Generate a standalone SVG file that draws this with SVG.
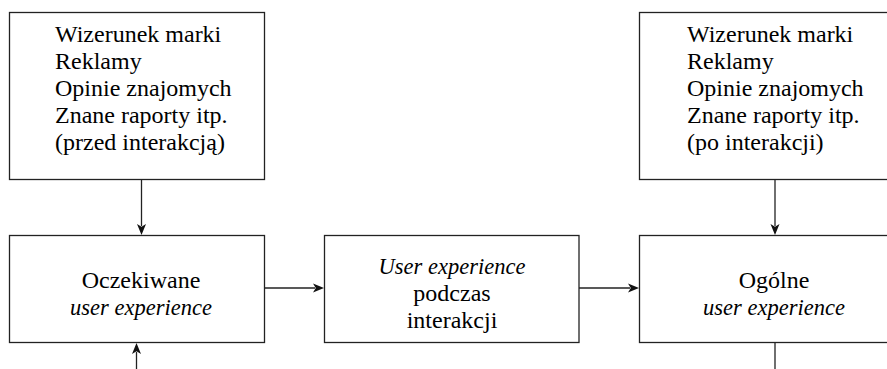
<svg xmlns="http://www.w3.org/2000/svg" width="887" height="369" viewBox="0 0 887 369">
<rect width="887" height="369" fill="#fff"/>
<g id="connectors" stroke="#222" stroke-width="1.3" fill="none">
<line x1="141.5" y1="179.5" x2="141.5" y2="226"/>
<line x1="136.5" y1="369" x2="136.5" y2="352"/>
<line x1="264.5" y1="288" x2="315" y2="288"/>
<line x1="579" y1="288" x2="630" y2="288"/>
<line x1="775" y1="179.5" x2="775" y2="226"/>
<line x1="775" y1="342.5" x2="775" y2="369"/>
<g fill="#111" stroke="none">
<path d="M137,224 L141.5,235 L146,224 L141.5,226.8 Z"/>
<path d="M132,354 L136.5,343 L141,354 L136.5,351.2 Z"/>
<path d="M313,283.5 L324,288 L313,292.5 L315.8,288 Z"/>
<path d="M628,283.5 L639,288 L628,292.5 L630.8,288 Z"/>
<path d="M770.5,224 L775,235 L779.5,224 L775,226.8 Z"/>
</g>
</g>
<g id="before">
<rect x="9.5" y="12.5" width="255" height="167" fill="#fff" stroke="#222" stroke-width="1.3"/>
<text x="55" y="42" font-family="Liberation Serif" font-size="24">Wizerunek marki</text>
<text x="55" y="69" font-family="Liberation Serif" font-size="24">Reklamy</text>
<text x="55" y="96" font-family="Liberation Serif" font-size="24">Opinie znajomych</text>
<text x="55" y="123" font-family="Liberation Serif" font-size="24">Znane raporty itp.</text>
<text x="55" y="150" font-family="Liberation Serif" font-size="24">(przed interakcją)</text>
</g>
<g id="expected">
<rect x="9.5" y="235.5" width="255" height="107" fill="#fff" stroke="#222" stroke-width="1.3"/>
<text x="141" y="288" font-family="Liberation Serif" font-size="24" text-anchor="middle">Oczekiwane</text>
<text x="141" y="315" font-family="Liberation Serif" font-size="22.5" font-style="italic" text-anchor="middle">user experience</text>
</g>
<g id="during">
<rect x="324.5" y="235.5" width="254.5" height="107" fill="#fff" stroke="#222" stroke-width="1.3"/>
<text x="452" y="274" font-family="Liberation Serif" font-size="22.5" font-style="italic" text-anchor="middle">User experience</text>
<text x="452" y="301" font-family="Liberation Serif" font-size="24" text-anchor="middle">podczas</text>
<text x="452" y="328" font-family="Liberation Serif" font-size="24" text-anchor="middle">interakcji</text>
</g>
<g id="after">
<rect x="639.5" y="12.5" width="260" height="167" fill="#fff" stroke="#222" stroke-width="1.3"/>
<text x="687" y="42" font-family="Liberation Serif" font-size="24">Wizerunek marki</text>
<text x="687" y="69" font-family="Liberation Serif" font-size="24">Reklamy</text>
<text x="687" y="96" font-family="Liberation Serif" font-size="24">Opinie znajomych</text>
<text x="687" y="123" font-family="Liberation Serif" font-size="24">Znane raporty itp.</text>
<text x="687" y="150" font-family="Liberation Serif" font-size="24">(po interakcji)</text>
</g>
<g id="overall">
<rect x="639.5" y="235.5" width="260" height="107" fill="#fff" stroke="#222" stroke-width="1.3"/>
<text x="774" y="288" font-family="Liberation Serif" font-size="24" text-anchor="middle">Ogólne</text>
<text x="774" y="315" font-family="Liberation Serif" font-size="22.5" font-style="italic" text-anchor="middle">user experience</text>
</g>
</svg>
